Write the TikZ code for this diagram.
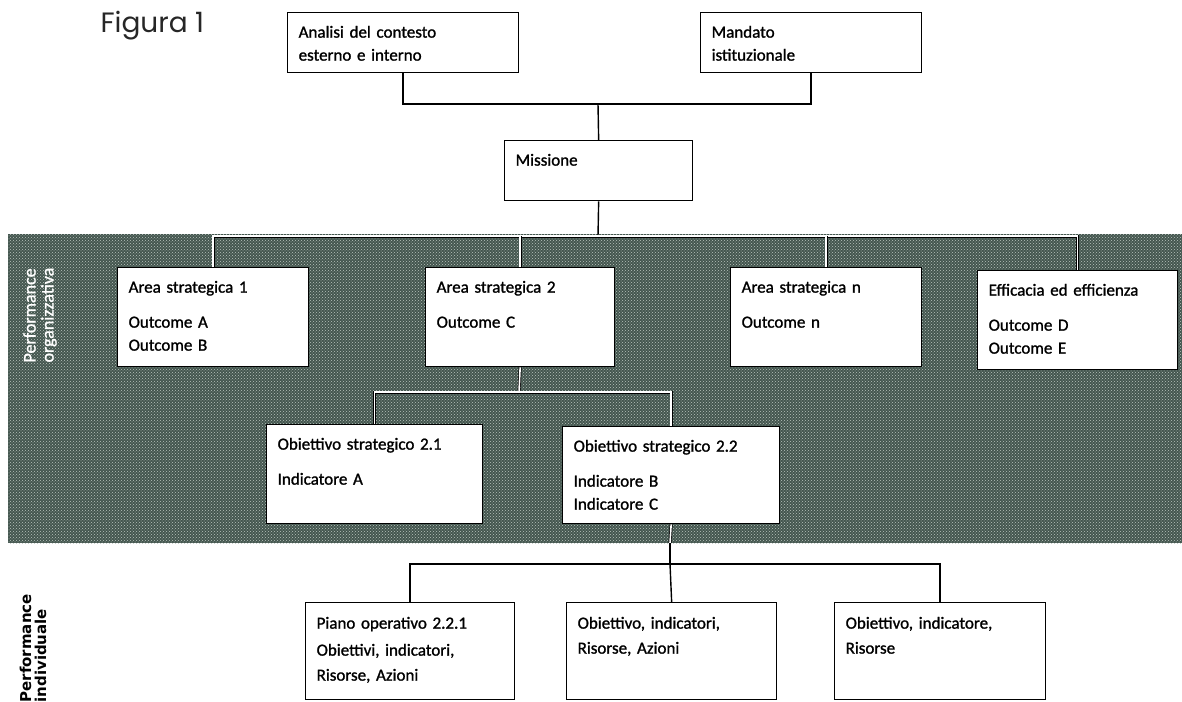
\documentclass[tikz,border=0pt]{standalone}
\usepackage{fontspec}
\setmainfont{Carlito}[FakeBold=1.2, WordSpace=0.85]
\newfontfamily\figfont{Poppins}
\newfontfamily\sidefont{DejaVu Sans}
\usetikzlibrary{positioning}
\usetikzlibrary{patterns}
\definecolor{bandgreen}{RGB}{68,86,79}
\definecolor{bandspeck}{RGB}{185,196,190}
\tikzset{
    box/.style = {draw, fill=white, line width=1.3pt, anchor=north west, align=left,
        inner xsep=11pt, inner ysep=0pt, text height=25pt},
    wire/.style = {line width=1.4pt},
    bandwire/.style = {line width=0.7pt, double=white, double distance=1.6pt},
    sidelabel/.style = {rotate=90, align=left, anchor=west}}

\begin{document}
\begin{tikzpicture}[x=1pt, y=-1pt, font=\fontsize{17}{23}\selectfont]
    \useasboundingbox (0,0) rectangle (1182,701);
    % fascia performance organizzativa
    \fill[bandgreen] (8,234) rectangle (1182,543);
    \fill[pattern=crosshatch dots, pattern color=bandspeck] (8,234) rectangle (1182,543);
    \node (F) [anchor=base west, font=\figfont\fontsize{28}{32}\selectfont, text=black!85] at (97,33) {Figura 1};
    \node (AC) [box, text width=209pt, text depth=35pt] at (287,12) {Analisi del contesto\\esterno e interno};
    \node (MI) [box, text width=199pt, text depth=35pt] at (700,12) {Mandato\\istituzionale};
    \node (MS) [box, text width=166pt, text depth=35pt] at (504,140) {Missione};
    \node (A1) [box, text width=169pt, text depth=74pt] at (117,267) {Area strategica 1\\[12pt]Outcome A\\Outcome B};
    \node (A2) [box, text width=167pt, text depth=74pt] at (425,267) {Area strategica 2\\[12pt]Outcome C};
    \node (AX) [box, text width=169pt, text depth=74pt] at (730,267) {Area strategica n\\[12pt]Outcome n};
    \node (EE) [box, text width=178pt, text depth=74pt] at (977,270) {Efficacia ed efficienza\\[12pt]Outcome D\\Outcome E};
    \node (O1) [box, text width=194pt, text depth=74pt] at (266,424) {Obiettivo strategico 2.1\\[12pt]Indicatore A};
    \node (O2) [box, text width=195pt, text depth=72pt] at (562,426) {Obiettivo strategico 2.2\\[12pt]Indicatore B\\Indicatore C};
    \node (P1) [box, text width=187pt, text depth=71pt, text height=26pt] at (305,602) {Piano operativo 2.2.1\\[4pt]Obiettivi, indicatori,\\[2pt]Risorse, Azioni};
    \node (P2) [box, text width=188pt, text depth=71pt, text height=26pt] at (566,602) {Obiettivo, indicatori,\\[2pt]Risorse, Azioni};
    \node (P3) [box, text width=189pt, text depth=71pt, text height=26pt] at (834,602) {Obiettivo, indicatore,\\[2pt]Risorse};
    \node (PO) [sidelabel, text=white, font=\fontsize{18}{18}\selectfont] at (40,366) {Performance\\organizzativa};
    \node (PI) [sidelabel, font=\sidefont\bfseries\fontsize{15}{15}\selectfont] at (33,706) {Performance\\individuale};
    % collegamenti
    \coordinate (J1) at (598,104);
    \coordinate (J2) at (598,236);
    \coordinate (J3) at (519,392);
    \coordinate (J4) at (670,564);
    \coordinate (B) at (670,543);
    \draw[wire] (AC.south) |- (J1) -| (MI.south);
    \draw[wire] (J1) -- (MS.north);
    \draw[wire] (MS.south) -- (J2);
    \draw[bandwire] (A1.north) |- (J2) -| (EE.north);
    \draw[bandwire] (A2.north) -- (A2.north |- J2);
    \draw[bandwire] (AX.north) -- (AX.north |- J2);
    \draw[bandwire] (A2.south) -- (J3);
    \draw[bandwire] (O1.north) |- (J3) -| (O2.north);
    \draw[bandwire] (O2.south) -- (B);
    \draw[wire] (B) -- (J4);
    \draw[wire] (P1.north) |- (J4) -| (P3.north);
    \draw[wire] (J4) -- (P2.north);
\end{tikzpicture}
\end{document}
